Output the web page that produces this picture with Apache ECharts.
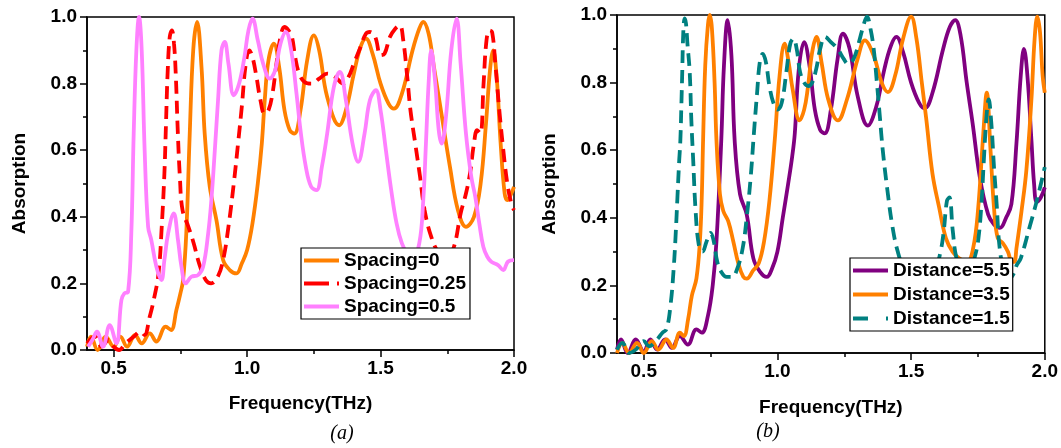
<!DOCTYPE html>
<html>
<head>
<meta charset="utf-8">
<script src="https://cdn.jsdelivr.net/npm/echarts@6/dist/echarts.min.js"></script>
<style>
html,body{margin:0;padding:0;background:#fff;}
#chart{width:1061px;height:448px;}
</style>
</head>
<body>
<div id="chart"></div>
<script>
// ---------- DATA (panel a) ----------
var xTickLabels = [0.5, 1.0, 1.5, 2.0];
var xMinorTicks = [0.75, 1.25, 1.75];

var sp0Freq = [0.40,0.415,0.44,0.47,0.50,0.525,0.55,0.58,0.605,0.635,0.66,0.695,0.715,0.735,0.75,0.76,0.772,0.785,0.798,0.8125,0.829,0.841,0.86,0.885,0.91,0.935,0.96,0.98,1.0,1.02,1.04,1.055,1.066,1.08,1.1,1.12,1.14,1.16,1.177,1.2,1.225,1.25,1.27,1.3,1.345,1.37,1.4,1.425,1.445,1.47,1.5,1.53,1.55,1.58,1.62,1.645,1.66,1.68,1.7,1.73,1.76,1.79,1.82,1.85,1.875,1.895,1.91,1.922,1.935,1.95,1.965,1.975,1.99,2.0];
var sp0Abs  = [0.01,0.04,0.0,0.04,0.01,0.04,0.01,0.045,0.02,0.05,0.025,0.07,0.06,0.12,0.17,0.21,0.35,0.65,0.9,0.985,0.85,0.65,0.49,0.39,0.27,0.24,0.23,0.26,0.3,0.38,0.5,0.62,0.75,0.87,0.92,0.85,0.72,0.66,0.65,0.72,0.87,0.945,0.9,0.76,0.675,0.72,0.83,0.91,0.935,0.89,0.8,0.74,0.725,0.77,0.9,0.965,0.985,0.95,0.85,0.7,0.55,0.42,0.37,0.4,0.5,0.68,0.84,0.9,0.82,0.62,0.47,0.45,0.47,0.49];

var sp025Freq = [0.40,0.43,0.455,0.48,0.5,0.52,0.545,0.575,0.6,0.615,0.635,0.65,0.668,0.68,0.69,0.696,0.702,0.71,0.718,0.726,0.733,0.74,0.748,0.758,0.78,0.8,0.82,0.845,0.865,0.89,0.91,0.93,0.95,0.966,0.98,0.995,1.008,1.02,1.035,1.05,1.065,1.08,1.095,1.11,1.125,1.14,1.155,1.168,1.18,1.195,1.215,1.24,1.27,1.3,1.33,1.36,1.38,1.4,1.425,1.445,1.46,1.48,1.5,1.515,1.535,1.555,1.572,1.585,1.6,1.612,1.63,1.648,1.665,1.69,1.72,1.75,1.775,1.8,1.82,1.835,1.85,1.862,1.874,1.886,1.897,1.908,1.918,1.93,1.945,1.96,1.975,1.99,2.0];
var sp025Abs  = [0.02,0.04,0.01,0.03,0.01,0.0,0.02,0.04,0.055,0.045,0.1,0.15,0.23,0.37,0.53,0.68,0.83,0.94,0.96,0.92,0.82,0.66,0.52,0.42,0.37,0.32,0.26,0.21,0.2,0.22,0.27,0.37,0.5,0.62,0.73,0.86,0.9,0.88,0.82,0.75,0.71,0.72,0.77,0.86,0.94,0.97,0.96,0.94,0.88,0.83,0.805,0.8,0.815,0.83,0.82,0.8,0.82,0.86,0.91,0.95,0.955,0.94,0.885,0.89,0.94,0.965,0.975,0.93,0.82,0.72,0.62,0.52,0.42,0.34,0.29,0.28,0.31,0.41,0.47,0.53,0.62,0.66,0.65,0.8,0.93,0.96,0.955,0.86,0.72,0.6,0.5,0.44,0.42];

var sp05Freq = [0.404,0.42,0.4375,0.46,0.485,0.51,0.529,0.54,0.554,0.566,0.575,0.585,0.595,0.605,0.616,0.629,0.641,0.66,0.679,0.69,0.704,0.725,0.741,0.754,0.77,0.791,0.816,0.835,0.854,0.866,0.879,0.891,0.904,0.916,0.93,0.95,0.97,0.99,1.005,1.02,1.04,1.06,1.085,1.105,1.125,1.145,1.165,1.185,1.2,1.22,1.24,1.26,1.28,1.3,1.325,1.3475,1.37,1.395,1.416,1.44,1.46,1.4825,1.5,1.52,1.54,1.56,1.58,1.6,1.62,1.645,1.66,1.67,1.68,1.69,1.705,1.718,1.729,1.745,1.765,1.785,1.8,1.82,1.84,1.855,1.87,1.885,1.9,1.915,1.94,1.96,1.977,2.0];
var sp05Abs  = [0.01,0.03,0.055,0.01,0.075,0.02,0.15,0.17,0.175,0.35,0.65,0.9,1.0,0.9,0.6,0.37,0.33,0.25,0.21,0.27,0.35,0.41,0.33,0.25,0.2,0.22,0.225,0.25,0.35,0.45,0.6,0.75,0.9,0.925,0.86,0.765,0.8,0.88,0.96,0.995,0.93,0.86,0.815,0.84,0.92,0.955,0.9,0.77,0.66,0.55,0.49,0.48,0.55,0.65,0.79,0.835,0.75,0.62,0.565,0.65,0.75,0.78,0.72,0.6,0.48,0.38,0.32,0.29,0.28,0.32,0.45,0.62,0.8,0.9,0.8,0.66,0.62,0.7,0.9,0.995,0.86,0.65,0.52,0.46,0.38,0.31,0.28,0.265,0.255,0.24,0.265,0.27];

// ---------- DATA (panel b) ----------
var d55Freq = [0.40,0.415,0.44,0.47,0.5,0.525,0.55,0.58,0.605,0.635,0.665,0.697,0.717,0.74,0.758,0.772,0.79,0.8,0.814,0.828,0.84,0.86,0.885,0.91,0.935,0.96,0.98,1.0,1.02,1.04,1.055,1.065,1.08,1.1,1.12,1.14,1.16,1.177,1.2,1.225,1.245,1.27,1.3,1.338,1.37,1.4,1.425,1.445,1.47,1.5,1.53,1.551,1.58,1.62,1.645,1.665,1.685,1.708,1.73,1.757,1.788,1.81,1.832,1.855,1.875,1.894,1.91,1.922,1.935,1.95,1.96,1.97,1.985,2.0];
var d55Abs  = [0.01,0.04,0.0,0.04,0.005,0.04,0.01,0.04,0.015,0.05,0.025,0.07,0.06,0.11,0.2,0.33,0.63,0.85,0.985,0.88,0.63,0.47,0.41,0.28,0.24,0.225,0.25,0.3,0.4,0.5,0.58,0.65,0.84,0.92,0.85,0.72,0.66,0.65,0.72,0.87,0.945,0.9,0.76,0.673,0.73,0.84,0.91,0.935,0.89,0.8,0.74,0.724,0.77,0.9,0.965,0.985,0.94,0.8,0.68,0.52,0.41,0.38,0.37,0.4,0.44,0.62,0.82,0.9,0.82,0.63,0.5,0.447,0.46,0.49];

var d35Freq = [0.40,0.42,0.445,0.475,0.5,0.53,0.555,0.585,0.61,0.635,0.65,0.666,0.68,0.697,0.71,0.717,0.722,0.73,0.74,0.747,0.755,0.765,0.772,0.785,0.7975,0.816,0.835,0.854,0.8725,0.885,0.91,0.93,0.95,0.97,0.99,1.008,1.027,1.042,1.057,1.083,1.1,1.113,1.13,1.146,1.165,1.19,1.226,1.26,1.3,1.327,1.36,1.39,1.413,1.44,1.47,1.5,1.52,1.54,1.557,1.58,1.605,1.63,1.655,1.68,1.71,1.732,1.75,1.77,1.783,1.797,1.81,1.824,1.843,1.862,1.877,1.886,1.894,1.913,1.931,1.95,1.962,1.972,1.982,1.992,2.0];
var d35Abs  = [0.0,0.03,0.0,0.03,0.0,0.035,0.01,0.04,0.015,0.06,0.05,0.1,0.17,0.22,0.33,0.46,0.63,0.85,0.97,1.0,0.96,0.8,0.63,0.47,0.42,0.39,0.33,0.264,0.225,0.22,0.245,0.265,0.33,0.45,0.63,0.82,0.915,0.86,0.78,0.688,0.72,0.78,0.89,0.935,0.86,0.75,0.688,0.75,0.87,0.925,0.88,0.8,0.772,0.82,0.93,0.995,0.93,0.8,0.69,0.53,0.43,0.34,0.3,0.28,0.27,0.31,0.42,0.65,0.77,0.6,0.43,0.34,0.325,0.3,0.27,0.27,0.31,0.42,0.54,0.75,0.93,0.995,0.95,0.82,0.77];

var d15Freq = [0.40,0.42,0.445,0.47,0.5,0.52,0.55,0.57,0.585,0.6,0.612,0.62,0.626,0.632,0.637,0.641,0.644,0.648,0.653,0.658,0.663,0.672,0.678,0.685,0.694,0.706,0.72,0.735,0.75,0.762,0.775,0.79,0.81,0.83,0.85,0.87,0.885,0.9,0.912,0.924,0.934,0.945,0.957,0.97,0.985,1.0,1.016,1.034,1.048,1.06,1.072,1.085,1.1,1.115,1.13,1.145,1.16,1.178,1.2,1.225,1.248,1.265,1.285,1.305,1.322,1.335,1.348,1.36,1.372,1.383,1.394,1.41,1.43,1.45,1.47,1.5,1.55,1.59,1.61,1.622,1.634,1.643,1.656,1.67,1.69,1.72,1.74,1.752,1.763,1.772,1.782,1.79,1.8,1.81,1.82,1.83,1.845,1.865,1.88,1.895,1.91,1.944,1.97,2.0];
var d15Abs  = [0.01,0.03,0.0,0.01,0.035,0.02,0.04,0.06,0.07,0.14,0.25,0.36,0.46,0.56,0.63,0.74,0.83,0.95,0.99,0.975,0.92,0.83,0.69,0.57,0.42,0.32,0.3,0.33,0.355,0.33,0.27,0.24,0.225,0.225,0.25,0.31,0.4,0.52,0.65,0.77,0.86,0.885,0.86,0.79,0.74,0.72,0.74,0.835,0.915,0.93,0.9,0.83,0.8,0.79,0.8,0.84,0.9,0.935,0.92,0.9,0.87,0.855,0.87,0.92,0.97,0.995,0.96,0.9,0.8,0.7,0.6,0.49,0.375,0.3,0.26,0.24,0.23,0.25,0.3,0.36,0.45,0.46,0.36,0.28,0.25,0.25,0.29,0.34,0.44,0.57,0.7,0.75,0.68,0.55,0.44,0.32,0.25,0.22,0.23,0.26,0.28,0.375,0.45,0.55];

// ---------- CHART ----------
function pairs(xs, ys) { return xs.map(function (x, i) { return [x, ys[i]]; }); }

var FONT = '"Liberation Sans", Arial, sans-serif';
var black = '#000';
var txt = { color: black, fontSize: 19, fontWeight: 'bold', fontFamily: FONT };
var LW = 3.8;

// legend sample icons (35 x 4 box)
var ICON_SOLID = 'path://M0,0H35V4H0Z';
var ICON_RED_DASH = 'path://M0,0H25V4H0ZM33,0H35V4H33Z';
var ICON_TEAL_DASH = 'path://M0,0H15V4H0ZM33,0H35V4H33Z';

function xAxisMain(g, gap) {
  return {
    type: 'value', gridIndex: g, min: 0.4, max: 2.0, position: 'bottom',
    axisLine: { show: true, onZero: false, lineStyle: { color: black, width: 1.5 } },
    axisTick: { show: true, customValues: xTickLabels, length: 7, lineStyle: { color: black, width: 1.5 } },
    axisLabel: Object.assign({ customValues: xTickLabels, margin: 9, formatter: function (v) { return v.toFixed(1); } }, txt),
    splitLine: { show: false },
    name: 'Frequency(THz)', nameLocation: 'middle', nameGap: gap, nameTextStyle: txt
  };
}
function xAxisMinor(g) {
  return {
    type: 'value', gridIndex: g, min: 0.4, max: 2.0, position: 'bottom',
    axisLine: { show: false, onZero: false },
    axisTick: { show: true, customValues: xMinorTicks, length: 4, lineStyle: { color: black, width: 1.5 } },
    axisLabel: { show: false },
    splitLine: { show: false }
  };
}
function yAxis(g) {
  return {
    type: 'value', gridIndex: g, min: 0, max: 1, interval: 0.2,
    axisLine: { show: true, onZero: false, lineStyle: { color: black, width: 1.5 } },
    axisTick: { show: true, length: 7, lineStyle: { color: black, width: 1.5 } },
    minorTick: { show: true, splitNumber: 2, length: 4, lineStyle: { color: black, width: 1.5 } },
    axisLabel: Object.assign({ margin: 10, formatter: function (v) { return v.toFixed(1); } }, txt),
    splitLine: { show: false },
    name: 'Absorption', nameLocation: 'middle', nameGap: 58, nameRotate: 90, nameTextStyle: txt
  };
}
function line(name, xi, yi, xs, ys, color, dashed) {
  return {
    type: 'line', name: name, xAxisIndex: xi, yAxisIndex: yi,
    data: pairs(xs, ys), showSymbol: false, symbol: 'none',
    smooth: 0.4,
    lineStyle: { color: color, width: LW, type: dashed ? [13, 7] : 'solid' },
    itemStyle: { color: color },
    emphasis: { disabled: true }
  };
}

var chart = echarts.init(document.getElementById('chart'), null, { renderer: 'canvas' });
chart.setOption({
  backgroundColor: '#fff',
  animation: false,
  grid: [
    { left: 87, top: 17, width: 427, height: 333, show: true, borderColor: black, borderWidth: 1.5, backgroundColor: 'transparent' },
    { left: 617, top: 15, width: 428, height: 338, show: true, borderColor: black, borderWidth: 1.5, backgroundColor: 'transparent' }
  ],
  xAxis: [xAxisMain(0, 44), xAxisMinor(0), xAxisMain(1, 45), xAxisMinor(1)],
  yAxis: [yAxis(0), yAxis(1)],
  legend: [
    {
      data: [
        { name: 'Spacing=0', icon: ICON_SOLID },
        { name: 'Spacing=0.25', icon: ICON_RED_DASH },
        { name: 'Spacing=0.5', icon: ICON_SOLID }
      ],
      orient: 'vertical', left: 301, top: 248, itemWidth: 35, itemHeight: 4, itemGap: 4,
      padding: [3, 4, 3, 3], backgroundColor: '#fff', borderColor: black, borderWidth: 1.2, borderRadius: 0,
      textStyle: txt, selectedMode: false
    },
    {
      data: [
        { name: 'Distance=5.5', icon: ICON_SOLID },
        { name: 'Distance=3.5', icon: ICON_SOLID },
        { name: 'Distance=1.5', icon: ICON_TEAL_DASH }
      ],
      orient: 'vertical', left: 850, top: 258, itemWidth: 35, itemHeight: 4, itemGap: 5,
      padding: [3, 3, 3, 3], backgroundColor: '#fff', borderColor: black, borderWidth: 1.2, borderRadius: 0,
      textStyle: txt, selectedMode: false
    }
  ],
  series: [
    line('Spacing=0', 0, 0, sp0Freq, sp0Abs, '#FF8000', false),
    line('Spacing=0.25', 0, 0, sp025Freq, sp025Abs, '#FF0000', true),
    line('Spacing=0.5', 0, 0, sp05Freq, sp05Abs, '#FF80FF', false),
    line('Distance=5.5', 2, 1, d55Freq, d55Abs, '#800080', false),
    line('Distance=3.5', 2, 1, d35Freq, d35Abs, '#FF8000', false),
    line('Distance=1.5', 2, 1, d15Freq, d15Abs, '#008080', true)
  ],
  graphic: [
    { type: 'text', x: 342, y: 434, style: { text: '(a)', fill: black, font: 'italic 20px "Liberation Serif", "Times New Roman", serif', align: 'center', verticalAlign: 'middle' } },
    { type: 'text', x: 768, y: 432, style: { text: '(b)', fill: black, font: 'italic 20px "Liberation Serif", "Times New Roman", serif', align: 'center', verticalAlign: 'middle' } }
  ]
});
</script>
</body>
</html>
